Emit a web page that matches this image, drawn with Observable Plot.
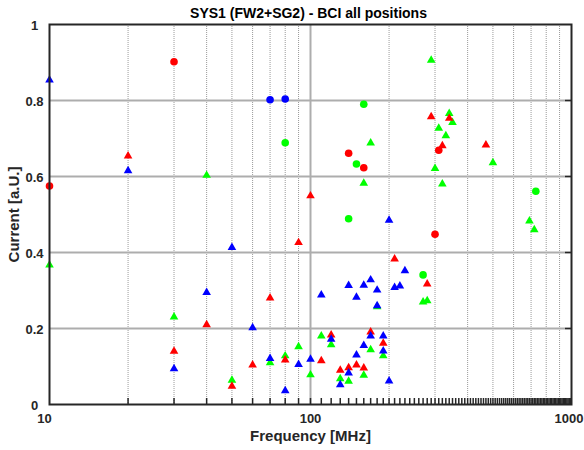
<!DOCTYPE html>
<html><head><meta charset="utf-8">
<script src="https://cdn.jsdelivr.net/npm/d3@7"></script>
<script src="https://cdn.jsdelivr.net/npm/@observablehq/plot@0.6"></script>
<style>
html,body{margin:0;padding:0;background:#fff;}
#chart svg{display:block;overflow:visible;}
</style></head><body><div id="chart"></div>
<script>
const title = "SYS1 (FW2+SG2) - BCI all positions";
const xLabel = "Frequency [MHz]";
const yLabel = "Current [a.U.]";
const xTickLabels = [10, 100, 1000];
const yTickLabels = [0, 0.2, 0.4, 0.6, 0.8, 1];
const xMinorGrid = [20, 30, 40, 50, 60, 70, 80, 90, 200, 300, 400, 500, 600, 700, 800, 900];
const xMajorGrid = [100];
const yGrid = [0.2, 0.4, 0.6, 0.8];
const xSmallTicks = d3.range(20, 1000, 10);

// red series
const redCircleF = [10, 30, 140, 160, 300, 310];
const redCircleV = [0.575, 0.902, 0.661, 0.623, 0.448, 0.669];
const redTriF = [20, 30, 40, 50, 60, 70, 80, 90, 100, 110, 120, 130, 140, 150, 160, 170, 190, 210, 280, 290, 320, 340, 470];
const redTriV = [0.654, 0.140, 0.210, 0.048, 0.104, 0.280, 0.117, 0.426, 0.549, 0.115, 0.183, 0.090, 0.097, 0.104, 0.096, 0.191, 0.161, 0.383, 0.317, 0.757, 0.681, 0.753, 0.683];

// green series
const greenCircleF = [80, 140, 150, 160, 270, 730];
const greenCircleV = [0.689, 0.489, 0.633, 0.790, 0.341, 0.561];
const greenTriF = [10, 30, 40, 50, 70, 80, 90, 100, 110, 120, 130, 140, 160, 160, 170, 170, 180, 190, 270, 280, 290, 300, 310, 320, 330, 340, 350, 500, 690, 720];
const greenTriV = [0.367, 0.230, 0.603, 0.064, 0.110, 0.128, 0.152, 0.078, 0.180, 0.157, 0.068, 0.061, 0.077, 0.582, 0.144, 0.688, 0.257, 0.128, 0.270, 0.273, 0.906, 0.621, 0.727, 0.580, 0.707, 0.766, 0.742, 0.636, 0.483, 0.460];

// blue series
const blueCircleF = [70, 80];
const blueCircleV = [0.802, 0.804];
const blueTriF = [10, 20, 30, 40, 50, 60, 70, 80, 90, 100, 110, 120, 130, 140, 140, 150, 150, 160, 160, 170, 170, 180, 180, 190, 190, 200, 200, 210, 220, 230];
const blueTriV = [0.854, 0.615, 0.094, 0.295, 0.413, 0.202, 0.121, 0.036, 0.105, 0.119, 0.288, 0.172, 0.052, 0.083, 0.313, 0.130, 0.282, 0.155, 0.314, 0.180, 0.328, 0.301, 0.260, 0.180, 0.141, 0.062, 0.485, 0.308, 0.312, 0.352];

const pts = (F, V) => F.map((f, i) => ({f, v: V[i]}));
const RED = "#ff0000", GREEN = "#00ff00", BLUE = "#0000ff";
const circ = (F, V, c) => Plot.dot(pts(F, V), {x: "f", y: "v", symbol: "circle", r: 3.8, fill: c});
const tri = (F, V, c) => Plot.dot(pts(F, V), {x: "f", y: "v", symbol: "triangle", r: 3.2, fill: c});
const xAxisPart = (ticks, dx) => Plot.axisX({ticks, dx, tickSize: 0, tickPadding: 9, tickFormat: d => String(d), label: null, fontSize: 13, fontWeight: "bold", fill: "#262626"});

const chart = Plot.plot({
  width: 584,
  height: 450,
  marginLeft: 49,
  marginRight: 13,
  marginTop: 24,
  marginBottom: 46,
  style: {fontFamily: "'Liberation Sans', Arial, Helvetica, sans-serif", fontSize: "13px", fontWeight: "bold", color: "#262626", background: "#fff", overflow: "visible"},
  x: {type: "log", domain: [10, 1000]},
  y: {domain: [0, 1]},
  marks: [
    Plot.ruleX(xMinorGrid, {stroke: "#9a9a9a", strokeWidth: 1, strokeDasharray: "1,1"}),
    Plot.ruleX(xMajorGrid, {stroke: "#adadad", strokeWidth: 2}),
    Plot.ruleY(yGrid, {stroke: "#adadad", strokeWidth: 2}),
    Plot.ruleX(xSmallTicks, {stroke: "#262626", strokeWidth: 1.5, insetTop: 374}),
    Plot.ruleY(yGrid, {stroke: "#262626", strokeWidth: 1.5, insetLeft: 516}),
    tri(greenTriF, greenTriV, GREEN),
    circ(greenCircleF, greenCircleV, GREEN),
    tri(redTriF, redTriV, RED),
    circ(redCircleF, redCircleV, RED),
    tri(blueTriF, blueTriV, BLUE),
    circ(blueCircleF, blueCircleV, BLUE),
    Plot.frame({stroke: "#262626", strokeWidth: 2}),
    xAxisPart([xTickLabels[0]], -5),
    xAxisPart([xTickLabels[1]], 0),
    xAxisPart([xTickLabels[2]], -2.5),
    Plot.axisY({ticks: yTickLabels, tickSize: 0, tickPadding: 15, textAnchor: "middle", dy: 1, tickFormat: d => String(d), label: null, fontSize: 13, fontWeight: "bold", fill: "#262626"}),
    Plot.text([title], {text: d => d, frameAnchor: "top", textAnchor: "middle", lineAnchor: "middle", dy: -11, dx: -2, fontSize: 14, fontWeight: "bold", fill: "#000"}),
    Plot.text([xLabel], {text: d => d, frameAnchor: "bottom", textAnchor: "middle", lineAnchor: "middle", dy: 32, fontSize: 15, fontWeight: "bold", fill: "#262626"}),
    Plot.text([yLabel], {text: d => d, frameAnchor: "left", textAnchor: "middle", lineAnchor: "middle", rotate: -90, dx: -35, fontSize: 15, fontWeight: "bold", fill: "#262626"})
  ]
});
document.getElementById("chart").appendChild(chart);
</script>
</body></html>
